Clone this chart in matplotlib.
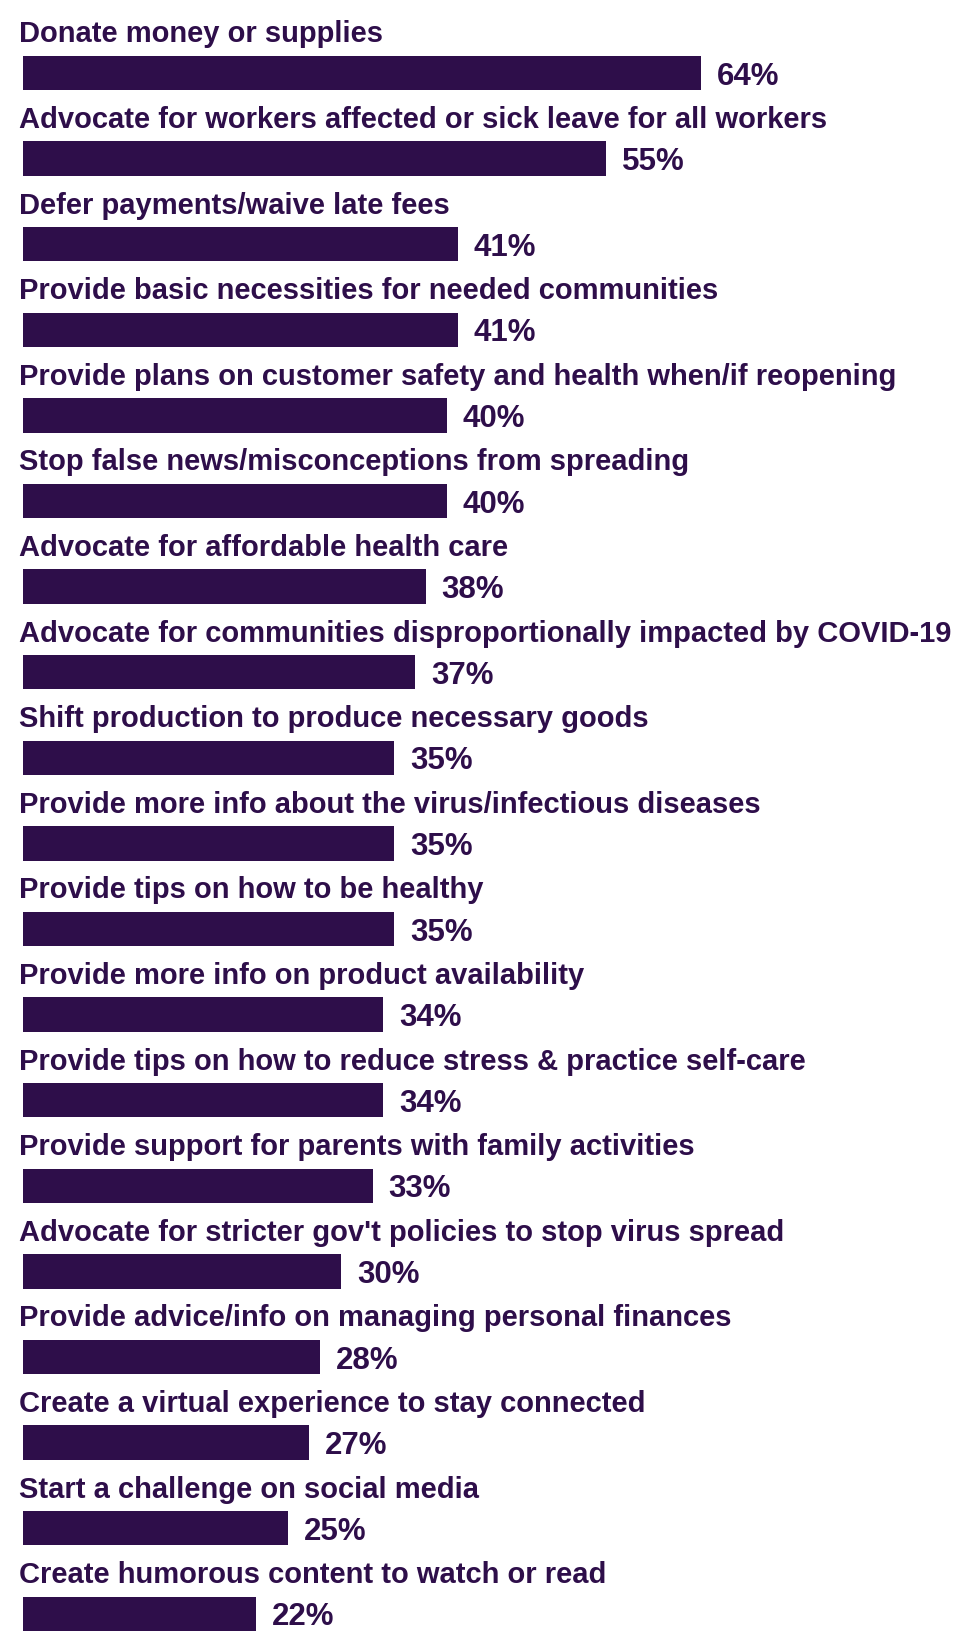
import matplotlib
matplotlib.use("Agg")
import matplotlib.pyplot as plt

plt.rcParams['font.family'] = ['Liberation Sans', 'DejaVu Sans']

categories = [
    "Donate money or supplies",
    "Advocate for workers affected or sick leave for all workers",
    "Defer payments/waive late fees",
    "Provide basic necessities for needed communities",
    "Provide plans on customer safety and health when/if reopening",
    "Stop false news/misconceptions from spreading",
    "Advocate for affordable health care",
    "Advocate for communities disproportionally impacted by COVID-19",
    "Shift production to produce necessary goods",
    "Provide more info about the virus/infectious diseases",
    "Provide tips on how to be healthy",
    "Provide more info on product availability",
    "Provide tips on how to reduce stress & practice self-care",
    "Provide support for parents with family activities",
    "Advocate for stricter gov't policies to stop virus spread",
    "Provide advice/info on managing personal finances",
    "Create a virtual experience to stay connected",
    "Start a challenge on social media",
    "Create humorous content to watch or read",
]
values = [64, 55, 41, 41, 40, 40, 38, 37, 35, 35, 35, 34, 34, 33, 30, 28, 27, 25, 22]

purple = '#2e0e4a'

fig = plt.figure(figsize=(9.6, 16.33), dpi=100)
ax = fig.add_axes([23 / 960, 0, 1 - 23 / 960, 1])

rows = list(range(len(categories)))
ax.barh(rows, values, height=0.40, color=purple, edgecolor='none')

for i, (cat, val) in enumerate(zip(categories, values)):
    ax.text(-0.4, i - 0.37, cat, ha='left', va='baseline',
            fontsize=21, fontweight='bold', color=purple)
    ax.text(val + 1.5, i + 0.03, f"{val}%", ha='left', va='center',
            fontsize=22.5, fontweight='bold', color=purple)

ax.set_xlim(0, 937 / 10.6)
ax.set_ylim((1633 - 74) / 85.6, -74 / 85.6)
ax.axis('off')

fig.savefig('out.png', dpi=100)
